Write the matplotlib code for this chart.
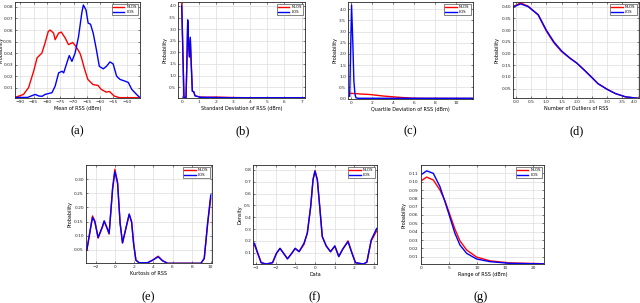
import matplotlib
matplotlib.use("Agg")
import matplotlib.pyplot as plt

# ---------------- data ----------------
# (a) Mean of RSS
a_nlos_x = [-92, -88.8, -86.9, -85, -83.7, -81.9, -80.7, -79.5, -78.8, -77.5, -76.9, -75.6, -74.6, -73.1, -71.9, -70.3, -69.1, -67.6, -67, -65.8, -64.6, -62.7, -60.8, -59.6, -57.7, -56.5, -54.7, -52.8, -45]
a_nlos_y = [0.0015, 0.0041, 0.010, 0.0242, 0.0358, 0.040, 0.0487, 0.0587, 0.060, 0.0573, 0.0516, 0.0573, 0.0582, 0.053, 0.0473, 0.0492, 0.0458, 0.040, 0.0358, 0.0257, 0.0171, 0.0127, 0.0119, 0.0085, 0.0061, 0.0067, 0.0027, 0.0013, 0.0013]
a_los_x = [-92, -87.3, -84.4, -83, -81.8, -80.7, -78.1, -76.9, -75.6, -74.3, -73.7, -72.5, -71.6, -70.6, -69.4, -68.1, -66.9, -66.3, -65.3, -64.5, -63.6, -62.6, -61.4, -60.3, -58.8, -57.6, -56.3, -55.1, -53.8, -52.5, -50.6, -49.4, -48.1, -46.3, -45.1]
a_los_y = [0.0015, 0.0015, 0.0041, 0.0027, 0.0025, 0.0041, 0.0056, 0.0113, 0.0228, 0.0242, 0.0228, 0.0315, 0.0378, 0.0328, 0.040, 0.0544, 0.0746, 0.0817, 0.0774, 0.066, 0.065, 0.0573, 0.043, 0.0285, 0.0263, 0.0285, 0.0323, 0.0306, 0.020, 0.0171, 0.0156, 0.0145, 0.0085, 0.0041, 0.0015]

# (b) Standard deviation of RSS
b_x = [0, 0.05, 0.13, 0.25, 0.3, 0.35, 0.4, 0.45, 0.5, 0.55, 0.62, 0.7, 0.78, 0.9, 1.1, 1.5, 2, 3, 4, 5, 6, 7.2]
b_nlos_y = [4.1, 2.6, 0.05, 0.05, 1.5, 3.35, 2.35, 1.8, 2.6, 1.6, 0.33, 0.3, 0.13, 0.1, 0.07, 0.06, 0.07, 0.05, 0.04, 0.04, 0.04, 0.04]
b_los_y = [4.0, 2.5, 0.05, 0.05, 1.5, 3.4, 2.4, 1.8, 2.65, 1.6, 0.32, 0.3, 0.12, 0.1, 0.06, 0.06, 0.05, 0.04, 0.04, 0.04, 0.04, 0.04]

# (c) Quartile deviation of RSS
c_nlos_x = [0, 0.5, 1.0, 1.8, 3.1, 4.4, 5.8, 7, 11.6]
c_nlos_y = [0.23, 0.22, 0.2, 0.18, 0.11, 0.06, 0.015, 0.005, 0.0]
c_los_x = [-0.1, 0.08, 0.2, 0.3, 0.4, 0.5, 0.7, 1, 2, 11.6]
c_los_y = [0.1, 4.2, 2.5, 0.8, 0.2, 0.03, 0.01, 0.01, 0.01, 0.01]

# (d) Number of outliers of RSS
d_x = [-0.1, 0.15, 0.4, 0.73, 1.0, 1.25, 1.5, 1.77, 2.0, 2.24, 2.5, 2.7, 3.0, 3.27, 3.6, 4.0]
d_nlos_y = [0.40, 0.416, 0.402, 0.364, 0.295, 0.245, 0.208, 0.18, 0.159, 0.13, 0.097, 0.071, 0.047, 0.029, 0.015, 0.009]
d_los_y = [0.398, 0.412, 0.40, 0.366, 0.299, 0.249, 0.211, 0.181, 0.159, 0.13, 0.097, 0.071, 0.047, 0.029, 0.015, 0.009]

# (e) Kurtosis of RSS
e_x = [-2.96, -2.72, -2.37, -2.13, -1.78, -1.32, -1.15, -0.87, -0.63, -0.27, -0.03, 0.25, 0.52, 0.77, 1.12, 1.47, 1.72, 1.93, 2.17, 2.51, 3.39, 3.92, 4.5, 4.96, 5.49, 8.97, 9.32, 9.67, 10.0]
e_nlos_y = [0.05, 0.1, 0.17, 0.153, 0.092, 0.132, 0.151, 0.128, 0.106, 0.27, 0.335, 0.29, 0.144, 0.075, 0.126, 0.175, 0.148, 0.073, 0.014, 0.005, 0.005, 0.014, 0.028, 0.012, 0.003, 0.003, 0.02, 0.14, 0.233]
e_los_y = [0.05, 0.097, 0.165, 0.15, 0.094, 0.134, 0.153, 0.13, 0.109, 0.262, 0.327, 0.286, 0.144, 0.075, 0.126, 0.177, 0.15, 0.073, 0.014, 0.005, 0.005, 0.014, 0.026, 0.012, 0.003, 0.003, 0.02, 0.144, 0.244]

# (f) Phase
f_x = [-3.14, -3.08, -2.91, -2.74, -2.49, -2.16, -1.96, -1.78, -1.6, -1.4, -1.18, -1.01, -0.81, -0.56, -0.39, -0.22, -0.1, 0, 0.12, 0.24, 0.37, 0.57, 0.79, 1.01, 1.21, 1.41, 1.68, 1.88, 2.06, 2.47, 2.64, 2.86, 3.14]
f_nlos_y = [0.16, 0.165, 0.09, 0.015, 0.004, 0.015, 0.095, 0.135, 0.095, 0.049, 0.095, 0.135, 0.11, 0.17, 0.27, 0.49, 0.72, 0.795, 0.716, 0.49, 0.236, 0.157, 0.108, 0.155, 0.07, 0.13, 0.2, 0.1, 0.015, 0.004, 0.02, 0.2, 0.285]
f_los_y = [0.175, 0.18, 0.095, 0.015, 0.004, 0.015, 0.095, 0.137, 0.095, 0.047, 0.095, 0.137, 0.108, 0.18, 0.264, 0.49, 0.716, 0.79, 0.716, 0.49, 0.236, 0.157, 0.108, 0.157, 0.066, 0.129, 0.193, 0.095, 0.015, 0.004, 0.02, 0.207, 0.305]

# (g) Range of RSS
g_x = [0, 1.06, 2.24, 3.42, 4.31, 5.2, 6.08, 6.97, 8.16, 9.93, 12.3, 15.8, 21.9]
g_nlos_y = [0.1007, 0.1055, 0.102, 0.09, 0.077, 0.06, 0.043, 0.029, 0.018, 0.0095, 0.005, 0.0025, 0.0015]
g_los_y = [0.108, 0.113, 0.11, 0.094, 0.076, 0.057, 0.038, 0.024, 0.014, 0.0072, 0.004, 0.002, 0.0013]

labels = ["NLOS", "LOS"]
captions = ["(a)", "(b)", "(c)", "(d)", "(e)", "(f)", "(g)"]

# ---------------- figure ----------------
W, H = 640, 303
fig = plt.figure(figsize=(6.4, 3.03), dpi=100)

def add_ax(l, r, t, b):
    return fig.add_axes([l / W, 1 - b / H, (r - l) / W, (b - t) / H])

RED = "#ff0000"
BLUE = "#0000ff"
FS = 3.2

def style(ax, xlabel, ylabel, xlim, ylim, xticks, yticks):
    ax.set_xlim(*xlim)
    ax.set_ylim(*ylim)
    ax.set_xticks(xticks)
    ax.set_yticks(yticks)
    ax.tick_params(direction="in", length=1.5, width=0.4, labelsize=FS, pad=1.5,
                   top=True, right=True, colors="#262626")
    ax.grid(True, color="#dddddd", linewidth=0.5)
    ax.set_axisbelow(True)
    for s in ax.spines.values():
        s.set_linewidth(0.6)
        s.set_color("#262626")
    ax.set_xlabel(xlabel, fontsize=FS + 0.3, labelpad=1.5)
    ax.set_ylabel(ylabel, fontsize=FS + 0.3, labelpad=1.5)
    leg = ax.legend(labels, loc="upper right", fontsize=2.8, handlelength=3.0,
                    borderpad=0.3, labelspacing=0.2, handletextpad=0.5,
                    fancybox=False, edgecolor="#262626", framealpha=1)
    leg.get_frame().set_linewidth(0.4)

# (a)
ax = add_ax(15, 140, 2, 98)
ax.plot(a_nlos_x, a_nlos_y, color=RED, lw=1.0)
ax.plot(a_los_x, a_los_y, color=BLUE, lw=1.0)
style(ax, "Mean of RSS (dBm)", "Probability", (-92, -45), (0.001, 0.0843),
      [-90, -85, -80, -75, -70, -65, -60, -55, -50],
      [0.01, 0.02, 0.03, 0.04, 0.05, 0.06, 0.07, 0.08])
ax.yaxis.set_label_coords((4 - 15) / 125, 0.5)

# (b)
ax = add_ax(178.3, 305, 2, 98)
ax.plot(b_x, b_nlos_y, color=RED, lw=1.0)
ax.plot(b_x, b_los_y, color=BLUE, lw=1.0)
style(ax, "Standard Deviation of RSS (dBm)", "Probability", (-0.2, 7.2), (0.03, 4.17),
      [0, 1, 2, 3, 4, 5, 6, 7], [0.5, 1, 1.5, 2, 2.5, 3, 3.5, 4])

# (c)
ax = add_ax(348.3, 472.7, 2, 98.5)
ax.plot(c_nlos_x, c_nlos_y, color=RED, lw=1.0)
ax.plot(c_los_x, c_los_y, color=BLUE, lw=1.0)
style(ax, "Quartile Deviation of RSS (dBm)", "Probability", (-0.23, 11.6), (0, 4.33),
      [0, 2, 4, 6, 8, 10], [0, 0.5, 1, 1.5, 2, 2.5, 3, 3.5, 4])

# (d)
ax = add_ax(513.3, 638.5, 2, 98)
ax.plot(d_x, d_nlos_y, color=RED, lw=1.0)
ax.plot(d_x, d_los_y, color=BLUE, lw=1.0)
style(ax, "Number of Outliers of RSS", "Probability", (-0.09, 4.03), (0.01, 0.42),
      [0, 0.5, 1, 1.5, 2, 2.5, 3, 3.5, 4],
      [0.05, 0.1, 0.15, 0.2, 0.25, 0.3, 0.35, 0.4])
ax.get_xticklabels()[-1].set_horizontalalignment("right")

# (e)
ax = add_ax(86, 211.7, 165, 263.3)
ax.plot(e_x, e_nlos_y, color=RED, lw=1.0)
ax.plot(e_x, e_los_y, color=BLUE, lw=1.0)
style(ax, "Kurtosis of RSS", "Probability", (-3.05, 10.1), (0.003, 0.35),
      [-2, 0, 2, 4, 6, 8, 10], [0.05, 0.1, 0.15, 0.2, 0.25, 0.3])

# (f)
ax = add_ax(253.3, 376.7, 165, 264)
ax.plot(f_x, f_nlos_y, color=RED, lw=1.0)
ax.plot(f_x, f_los_y, color=BLUE, lw=1.0)
style(ax, "Data", "Density", (-3.14, 3.14), (0.004, 0.842),
      [-3, -2, -1, 0, 1, 2, 3], [0.1, 0.2, 0.3, 0.4, 0.5, 0.6, 0.7, 0.8])

# (g)
ax = add_ax(420.7, 544, 165, 264)
ax.plot(g_x, g_nlos_y, color=RED, lw=1.0)
ax.plot(g_x, g_los_y, color=BLUE, lw=1.0)
style(ax, "Range of RSS (dBm)", "Probability", (0, 21.9), (0.0012, 0.12),
      [0, 5, 10, 15, 20],
      [0.01, 0.02, 0.03, 0.04, 0.05, 0.06, 0.07, 0.08, 0.09, 0.1, 0.11])

# captions
cap_pos = [(77, 131), (243, 131), (410, 131), (577, 131), (148, 297), (315, 297), (481, 297)]
for c, (x, y) in zip(captions, cap_pos):
    fig.text(x / W, 1 - y / H, c, ha="center", va="center", fontsize=9,
             family="Liberation Serif")

fig.savefig("out.png", dpi=100)
